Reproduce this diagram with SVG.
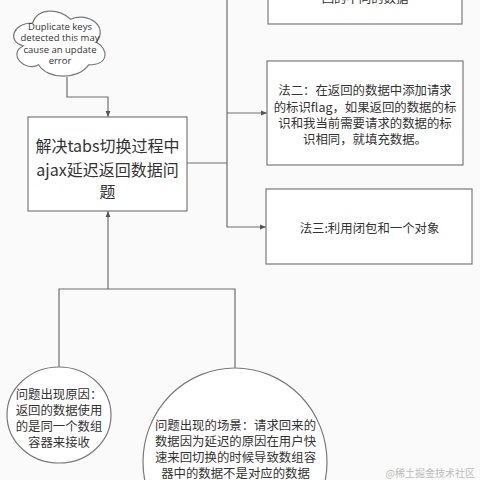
<svg xmlns="http://www.w3.org/2000/svg" width="480" height="480" viewBox="0 0 480 480">
<defs>
<style>
.shape{fill:#ffffff;stroke:#7a7a7a;stroke-width:1.2}
.edge{fill:none;stroke:#6e6e6e;stroke-width:1.2}
.t{font-family:"Noto Sans CJK SC","Open Sans",sans-serif;fill:#333333;text-anchor:middle}
.lat{font-family:"Open Sans","Noto Sans CJK SC",sans-serif;fill:#333333;text-anchor:middle;font-size:9.5px}
.m{font-size:12.4px}
.wm{font-family:"Noto Sans CJK SC",sans-serif;font-size:10px;fill:#bdbdbd;text-anchor:end}
</style>
<marker id="arr" viewBox="0 0 10 10" refX="10" refY="5" markerWidth="6" markerHeight="6" markerUnits="userSpaceOnUse" orient="auto">
<path d="M0,1 L10,5 L0,9 Z" fill="#555555"/>
</marker>
</defs>
<rect width="480" height="480" fill="#fafafa"/>
<g id="connectors">
<path class="edge" d="M67,77 V97 H108 V117" marker-end="url(#arr)"/>
<path class="edge" d="M108,289 V211" marker-end="url(#arr)"/>
<path class="edge" d="M187,163 H227"/>
<path class="edge" d="M227,0 V227 H266" marker-end="url(#arr)"/>
<path class="edge" d="M227,113 H267" marker-end="url(#arr)"/>
<path class="edge" d="M59,367 V289 H235 V368"/>
</g>
<g id="node-top">
<rect class="shape" x="268" y="-20" width="194" height="44"/>
<text class="t m" x="365" y="3">回的不同的数据</text>
</g>
<g id="node-cloud">
<path class="shape" d="M32.5,23 C12.1,23 7,42 23.32,45.8 C7,54.16 25.36,72.4 38.62,64.8 C47.8,80 78.4,80 88.6,64.8 C109,64.8 109,49.6 96.25,42 C109,26.8 88.6,11.6 70.75,19.2 C58,7.8 37.6,7.8 32.5,23 Z"/>
<text class="lat"><tspan x="60" y="29.5">Duplicate keys</tspan><tspan x="60" y="41">detected this may</tspan><tspan x="60" y="52.5">cause an update</tspan><tspan x="60" y="64">error</tspan></text>
</g>
<g id="node-main">
<rect class="shape" x="28" y="117" width="159" height="94"/>
<text class="t" font-size="16"><tspan x="107.5" y="152">解决tabs切换过程中</tspan><tspan x="107.5" y="175.5">ajax延迟返回数据问</tspan><tspan x="107.5" y="198">题</tspan></text>
</g>
<g id="node-method2">
<rect class="shape" x="267" y="61" width="196" height="104"/>
<text class="t m"><tspan x="365" y="95">法二：在返回的数据中添加请求</tspan><tspan x="365" y="111.5">的标识flag，如果返回的数据的标</tspan><tspan x="365" y="127.5">识和我当前需要请求的数据的标</tspan><tspan x="365" y="143.5">识相同，就填充数据。</tspan></text>
</g>
<g id="node-method3">
<rect class="shape" x="266" y="189" width="206" height="75"/>
<text class="t m" x="369.5" y="233">法三:利用闭包和一个对象</text>
</g>
<g id="node-cause">
<ellipse class="shape" cx="59" cy="415" rx="52" ry="48"/>
<text class="t m"><tspan x="59" y="398.5">问题出现原因：</tspan><tspan x="59" y="414.5">返回的数据使用</tspan><tspan x="59" y="430.5">的是同一个数组</tspan><tspan x="59" y="446.5">容器来接收</tspan></text>
</g>
<g id="node-scene">
<ellipse class="shape" cx="235" cy="462" rx="92" ry="94"/>
<text class="t m"><tspan x="235.5" y="429.5">问题出现的场景：请求回来的</tspan><tspan x="235.5" y="445.5">数据因为延迟的原因在用户快</tspan><tspan x="235.5" y="461.5">速来回切换的时候导致数组容</tspan><tspan x="235.5" y="477.5">器中的数据不是对应的数据</tspan></text>
</g>
<text class="wm" x="475" y="477">@稀土掘金技术社区</text>
</svg>
